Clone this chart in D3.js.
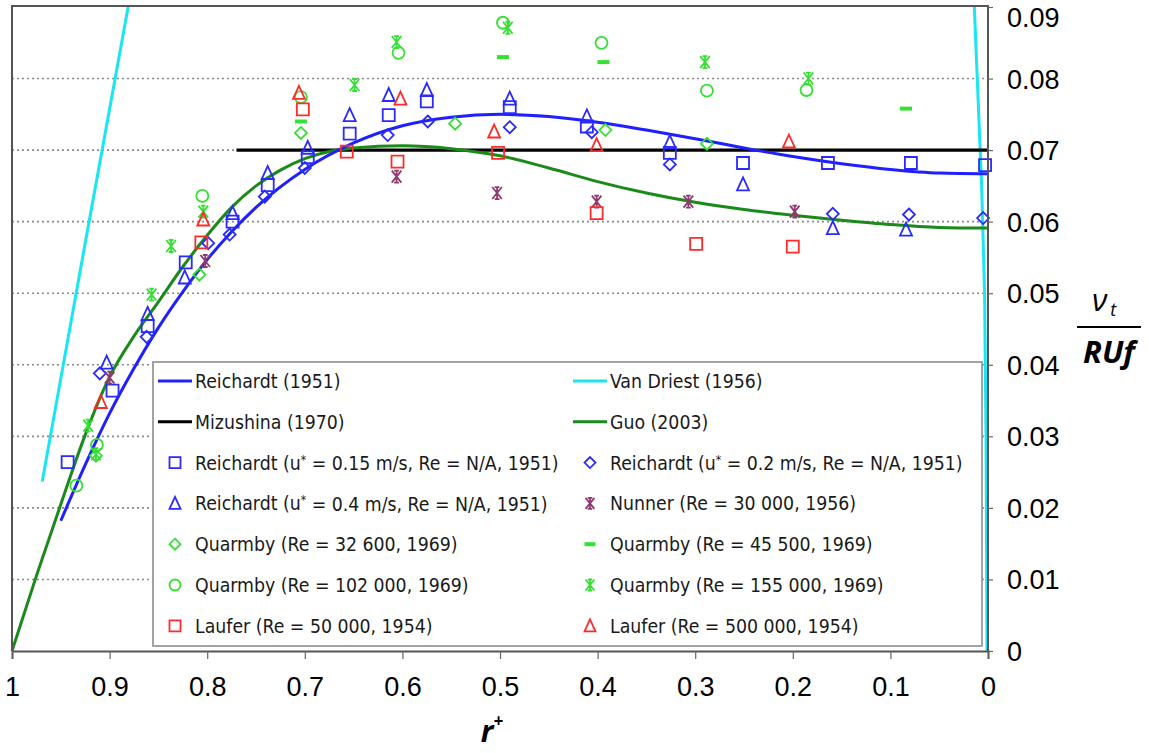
<!DOCTYPE html>
<html>
<head>
<meta charset="utf-8">
<script src="https://cdn.jsdelivr.net/npm/d3@7/dist/d3.min.js"></script>
<style>
  html, body { margin: 0; padding: 0; background: #fff; }
  svg { display: block; }
</style>
</head>
<body>
<svg id="chart" width="1149" height="753"></svg>
<script>
// ---- tick values ----
const xTicks = [1, 0.9, 0.8, 0.7, 0.6, 0.5, 0.4, 0.3, 0.2, 0.1, 0];
const yTicks = [0, 0.01, 0.02, 0.03, 0.04, 0.05, 0.06, 0.07, 0.08, 0.09];

// ---- model curves: [r+, nu_t/(R Uf)] ----
const reichardtCurve = [[0.95,0.0182],[0.925,0.0260],[0.9,0.0332],[0.875,0.0395],[0.85,0.0452],[0.825,0.0502],[0.8,0.0547],[0.775,0.0586],[0.75,0.0620],[0.7,0.0673],[0.65,0.0710],[0.6,0.0734],[0.55,0.0746],[0.5,0.0750],[0.45,0.0747],[0.4,0.0739],[0.35,0.0728],[0.3,0.0716],[0.25,0.0703],[0.2,0.0691],[0.15,0.0681],[0.1,0.0673],[0.05,0.0668],[0,0.0667]];
const guoCurve = [[1,0],[0.975,0.0105],[0.95,0.0205],[0.925,0.0302],[0.9,0.0383],[0.875,0.0440],[0.85,0.0488],[0.825,0.0537],[0.8,0.0581],[0.775,0.0620],[0.75,0.0650],[0.725,0.0672],[0.7,0.0688],[0.675,0.0698],[0.65,0.0703],[0.6,0.0706],[0.55,0.0702],[0.5,0.0692],[0.45,0.0675],[0.4,0.0656],[0.35,0.0640],[0.3,0.0627],[0.25,0.0617],[0.2,0.0609],[0.15,0.0602],[0.1,0.0596],[0.05,0.0592],[0,0.0591]];
const vanDriestWall = [[0.969,0.0237],[0.925,0.0570],[0.881,0.0900]];
const vanDriestCore = [[0.001,0],[0.002,0.030],[0.0035,0.050],[0.0065,0.065],[0.0095,0.075],[0.014,0.090]];
const mizushinaCurve = [[0.77,0.07],[0,0.07]];

// ---- measured data: [r+, nu_t/(R Uf)] ----
const reichardt015 = [[0.943,0.0264],[0.897,0.0364],[0.861,0.0454],[0.822,0.0543],[0.774,0.0600],[0.738,0.0651],[0.697,0.0690],[0.654,0.0723],[0.614,0.0749],[0.575,0.0768],[0.490,0.0760],[0.411,0.0733],[0.326,0.0696],[0.251,0.0682],[0.164,0.0682],[0.079,0.0682],[0.003,0.0679]];
const reichardt02 = [[0.910,0.0388],[0.862,0.0439],[0.799,0.0570],[0.777,0.0582],[0.741,0.0635],[0.700,0.0675],[0.615,0.0721],[0.574,0.0740],[0.490,0.0732],[0.406,0.0725],[0.326,0.0680],[0.159,0.0611],[0.081,0.0610],[0.005,0.0605]];
const reichardt04 = [[0.903,0.0403],[0.861,0.0471],[0.823,0.0522],[0.774,0.0612],[0.738,0.0668],[0.697,0.0703],[0.654,0.0749],[0.614,0.0777],[0.575,0.0784],[0.490,0.0772],[0.411,0.0747],[0.326,0.0711],[0.251,0.0652],[0.159,0.0591],[0.084,0.0589]];
const nunner30000 = [[0.900,0.0382],[0.802,0.0545],[0.606,0.0663],[0.503,0.0640],[0.401,0.0628],[0.307,0.0628],[0.198,0.0614]];
const quarmby32600 = [[0.914,0.0273],[0.808,0.0526],[0.704,0.0724],[0.546,0.0737],[0.392,0.0728],[0.288,0.0709]];
const quarmby45500 = [[0.704,0.0740],[0.497,0.0830],[0.394,0.0823],[0.084,0.0758]];
const quarmby102000 = [[0.934,0.0231],[0.913,0.0288],[0.805,0.0636],[0.704,0.0774],[0.604,0.0836],[0.497,0.0878],[0.396,0.0850],[0.288,0.0783],[0.186,0.0784]];
const quarmby155000 = [[0.922,0.0315],[0.914,0.0275],[0.857,0.0498],[0.837,0.0566],[0.804,0.0614],[0.649,0.0791],[0.606,0.0851],[0.492,0.0871],[0.290,0.0823],[0.184,0.0800]];
const laufer50000 = [[0.806,0.0571],[0.702,0.0757],[0.657,0.0698],[0.605,0.0684],[0.502,0.0696],[0.401,0.0612],[0.299,0.0569],[0.200,0.0565]];
const laufer500000 = [[0.909,0.0348],[0.804,0.0603],[0.706,0.0780],[0.602,0.0772],[0.506,0.0726],[0.401,0.0707],[0.204,0.0712]];

// ---- styles ----
const BLUE = "#1f1fff", CYAN = "#19e6f0", BLACK = "#000", DKGREEN = "#1a8a1a";
const MBLUE = "#2a2aff", MRED = "#ff2a2a", MGREEN = "#33e033", MPURPLE = "#8e3a6e";

const lineSeries = [
  { name: "Reichardt (1951)", data: reichardtCurve, color: BLUE },
  { name: "Van Driest (1956)", data: vanDriestWall, color: CYAN },
  { name: "Mizushina (1970)", data: mizushinaCurve, color: BLACK },
  { name: "Guo (2003)", data: guoCurve, color: DKGREEN }
];

const pointSeries = [
  { label: ["Reichardt (u", "*", " = 0.15 m/s, Re = N/A, 1951)"], data: reichardt015, shape: "square", color: MBLUE },
  { label: ["Reichardt (u", "*", " = 0.2  m/s, Re = N/A, 1951)"], data: reichardt02, shape: "diamond", color: MBLUE },
  { label: ["Reichardt (u", "*", " = 0.4  m/s, Re = N/A, 1951)"], data: reichardt04, shape: "triangle", color: MBLUE },
  { label: ["Nunner (Re = 30 000, 1956)"], data: nunner30000, shape: "star", color: MPURPLE },
  { label: ["Quarmby (Re = 32 600, 1969)"], data: quarmby32600, shape: "diamond", color: MGREEN },
  { label: ["Quarmby (Re = 45 500, 1969)"], data: quarmby45500, shape: "dash", color: MGREEN },
  { label: ["Quarmby (Re = 102 000, 1969)"], data: quarmby102000, shape: "circle", color: MGREEN },
  { label: ["Quarmby (Re = 155 000, 1969)"], data: quarmby155000, shape: "star", color: MGREEN },
  { label: ["Laufer (Re = 50 000, 1954)"], data: laufer50000, shape: "square", color: MRED },
  { label: ["Laufer (Re = 500 000, 1954)"], data: laufer500000, shape: "triangle", color: MRED }
];

// ---- layout ----
const svg = d3.select("#chart");
const plotLeft = 12, plotRight = 988, plotTop = 7, plotBottom = 651;
const x = d3.scaleLinear().domain([1, 0]).range([plotLeft, plotRight]);
const y = d3.scaleLinear().domain([0, 0.09]).range([plotBottom, plotTop]);
const TICK_FONT = "Liberation Sans";

// gridlines
svg.append("g").selectAll("line")
  .data(yTicks.filter(v => v > 0 && v < 0.09))
  .join("line")
  .attr("x1", plotLeft).attr("x2", plotRight)
  .attr("y1", d => y(d)).attr("y2", d => y(d))
  .attr("stroke", "#8a8a8a").attr("stroke-width", 1.6)
  .attr("stroke-dasharray", "2,3");

// marker path generator
function markerPath(shape, s) {
  switch (shape) {
    case "square": return `M${-s},${-s}H${s}V${s}H${-s}Z`;
    case "diamond": return `M0,${-s}L${s},0L0,${s}L${-s},0Z`;
    case "triangle": return `M0,${-s - 1}L${s},${s}H${-s}Z`;
    case "circle": return `M${s},0A${s},${s} 0 1,1 ${-s},0A${s},${s} 0 1,1 ${s},0Z`;
    case "star": return `M${-s * 0.8},${-s}L${s * 0.8},${s}M${s * 0.8},${-s}L${-s * 0.8},${s}M0,${-s}V${s}M${-s * 0.4},${-s}H${s * 0.4}M${-s * 0.4},${s}H${s * 0.4}`;
    case "dash": return `M${-s},0H${s}`;
  }
}

const plot = svg.append("g");

// model curves
const line = d3.line().x(d => x(d[0])).y(d => y(d[1])).curve(d3.curveMonotoneX);
plot.append("path").datum(vanDriestWall).attr("d", line)
  .attr("fill", "none").attr("stroke", CYAN).attr("stroke-width", 3);
plot.append("path").datum(vanDriestCore).attr("d", d3.line().x(d => x(d[0])).y(d => y(d[1])))
  .attr("fill", "none").attr("stroke", CYAN).attr("stroke-width", 3);
plot.append("path").datum(mizushinaCurve).attr("d", line)
  .attr("fill", "none").attr("stroke", BLACK).attr("stroke-width", 3.2);
plot.append("path").datum(guoCurve).attr("d", line)
  .attr("fill", "none").attr("stroke", DKGREEN).attr("stroke-width", 3);
plot.append("path").datum(reichardtCurve).attr("d", line)
  .attr("fill", "none").attr("stroke", BLUE).attr("stroke-width", 3);

// measured points
const MS = 6;
pointSeries.forEach(ser => {
  plot.append("g").selectAll("path")
    .data(ser.data)
    .join("path")
    .attr("transform", d => `translate(${x(d[0])},${y(d[1])})`)
    .attr("d", markerPath(ser.shape, MS))
    .attr("fill", "none")
    .attr("stroke", ser.color)
    .attr("stroke-width", ser.shape === "dash" ? 4 : 1.8);
});

// frame
svg.append("path")
  .attr("d", `M${plotLeft},${plotBottom}V${plotTop - 1}H${plotRight}V${plotBottom}`)
  .attr("fill", "none").attr("stroke", "#555").attr("stroke-width", 2);

// bottom axis
const xAxis = svg.append("g")
  .attr("transform", `translate(0,${plotBottom})`)
  .call(d3.axisBottom(x).tickValues(xTicks).tickSize(8).tickPadding(18)
    .tickFormat(d => d3.format("~g")(d)));
xAxis.select(".domain").attr("stroke", "#555").attr("stroke-width", 2);
xAxis.selectAll(".tick line").attr("stroke", "#666").attr("stroke-width", 1.2);
xAxis.selectAll("text").attr("font-family", TICK_FONT).attr("font-size", 27).attr("fill", "#000");

// right axis
const yAxis = svg.append("g")
  .attr("transform", `translate(${plotRight},0)`)
  .call(d3.axisRight(y).tickValues(yTicks).tickSize(5).tickPadding(14)
    .tickFormat(d => d === 0 ? "0" : d3.format(".2f")(d)));
yAxis.select(".domain").remove();
yAxis.selectAll(".tick line").attr("stroke", "#666").attr("stroke-width", 1.2);
yAxis.selectAll("text").attr("font-family", TICK_FONT).attr("font-size", 27).attr("fill", "#000")
  .attr("dy", d => d === 0.09 ? "0.72em" : "0.35em");

// legend
const legend = svg.append("g");
const lgX = 153, lgY = 362, lgW = 829, lgH = 284;
legend.append("rect").attr("x", lgX).attr("y", lgY).attr("width", lgW).attr("height", lgH)
  .attr("fill", "#fff").attr("stroke", "#9a9a9a").attr("stroke-width", 1.8);

const colX = [158, 573];
const rowY = i => 381 + i * 40.8;
const legendItems = [
  { kind: "line", s: lineSeries[0] }, { kind: "line", s: lineSeries[1] },
  { kind: "line", s: lineSeries[2] }, { kind: "line", s: lineSeries[3] },
  ...pointSeries.map(s => ({ kind: "pt", s }))
];
legendItems.forEach((it, i) => {
  const cx = colX[i % 2], cy = rowY(Math.floor(i / 2));
  const g = legend.append("g");
  if (it.kind === "line") {
    g.append("line").attr("x1", cx).attr("x2", cx + 34).attr("y1", cy).attr("y2", cy)
      .attr("stroke", it.s.color).attr("stroke-width", 3);
  } else {
    g.append("path").attr("transform", `translate(${cx + 17},${cy})`)
      .attr("d", markerPath(it.s.shape, 5.5))
      .attr("fill", "none").attr("stroke", it.s.color)
      .attr("stroke-width", it.s.shape === "dash" ? 4 : 1.8);
  }
  const t = g.append("text").attr("x", cx + 37).attr("y", cy)
    .attr("dy", "0.36em")
    .attr("font-family", "DejaVu Sans Condensed").attr("font-size", 19.3).attr("fill", "#1a1a1a");
  const parts = it.kind === "line" ? [it.s.name] : it.s.label;
  if (parts.length === 1) {
    t.text(parts[0]);
  } else {
    t.append("tspan").text(parts[0]);
    t.append("tspan").text(parts[1]).attr("font-size", 12).attr("dy", "-0.5em");
    t.append("tspan").text(parts[2]).attr("dy", "0.32em");
  }
});

// axis titles
const xt = svg.append("text").attr("x", 492).attr("y", 742)
  .attr("font-family", "Open Sans").attr("font-style", "italic").attr("font-weight", "bold")
  .attr("font-size", 30).attr("fill", "#000").attr("text-anchor", "middle");
xt.append("tspan").text("r");
xt.append("tspan").text("+").attr("font-size", 17).attr("dy", "-0.9em");

const yt = svg.append("g");
const nu = yt.append("text").attr("x", 1104).attr("y", 311)
  .attr("font-family", "Open Sans").attr("font-style", "italic")
  .attr("font-size", 31).attr("fill", "#000").attr("text-anchor", "middle");
nu.append("tspan").text("ν");
nu.append("tspan").text("t").attr("font-size", 18).attr("dy", "0.3em").attr("dx", "3");
yt.append("line").attr("x1", 1077).attr("x2", 1141).attr("y1", 327).attr("y2", 327)
  .attr("stroke", "#000").attr("stroke-width", 2);
yt.append("text").attr("x", 1109).attr("y", 363)
  .attr("font-family", "Open Sans").attr("font-style", "italic").attr("font-weight", "bold")
  .attr("font-size", 31).attr("fill", "#000").attr("text-anchor", "middle").text("RUf");
</script>
</body>
</html>
